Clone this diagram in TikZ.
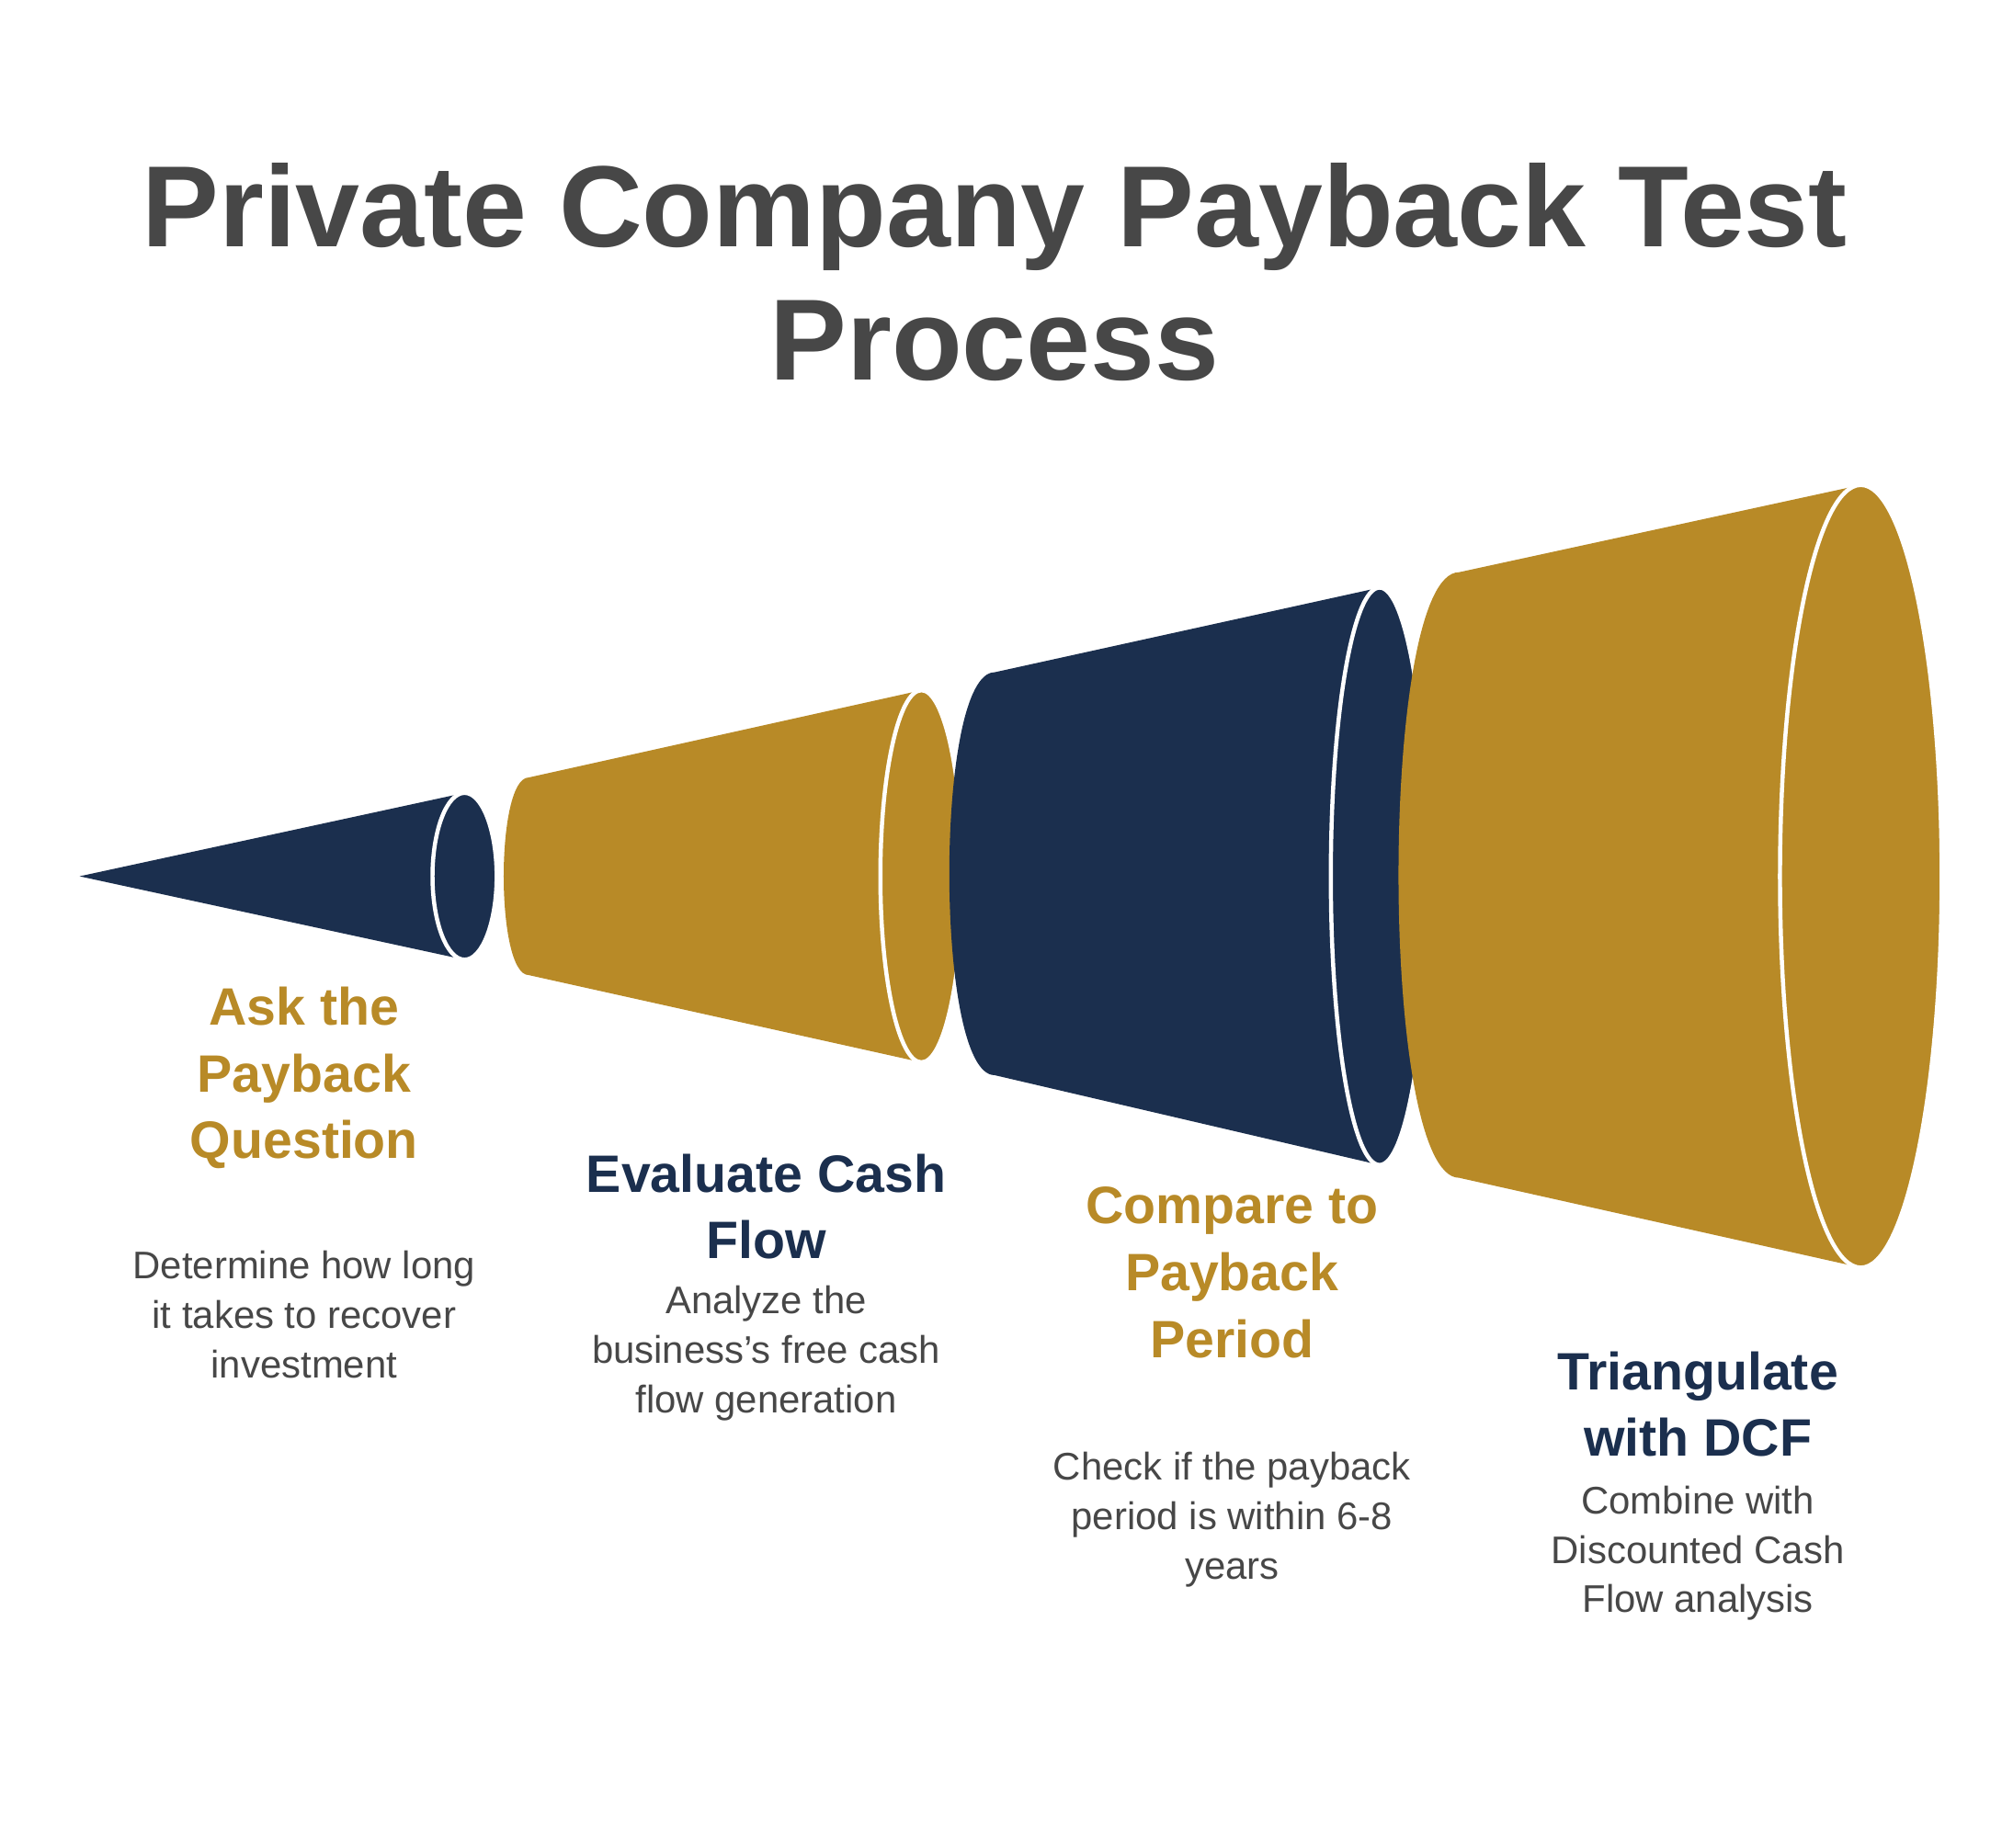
\documentclass[tikz,border=0pt]{standalone}
\usepackage{fontspec}
\setmainfont{Liberation Sans}
\definecolor{navy}{HTML}{1B2F4E}
\definecolor{gold}{HTML}{B88A27}
\definecolor{txt}{HTML}{474747}
\begin{document}
\begin{tikzpicture}[x=0.5pt,y=-0.5pt,
  rimline/.style={line width=1.6pt,draw=white},
  ttl/.style={font=\fontsize{45}{52}\selectfont\bfseries,text=txt,align=center},
  lab/.style={font=\fontsize{20.5}{26}\selectfont\bfseries,align=center,anchor=base},
  desc/.style={font=\fontsize{15}{19.3}\selectfont,text=txt,align=center,anchor=base}]
\useasboundingbox[fill=white] (0,0) rectangle (1560,1440);
% segment 1
\fill[navy] (62,683) -- (362,618) -- (362,748) -- cycle;
\filldraw[navy,rimline] (362,683) ellipse [x radius=25,y radius=65];
% segment 2
\fill[gold] (412,606) -- (718,538) -- (718,828) -- (412,760) .. controls (386,760) and (386,606) .. (412,606) -- cycle;
\filldraw[gold,rimline] (718,683) ellipse [x radius=32,y radius=145];
% segment 3
\fill[navy] (775,524) -- (1075,458) -- (1075,908) -- (775,838) .. controls (728,838) and (728,524) .. (775,524) -- cycle;
\filldraw[navy,rimline] (1075,683) ellipse [x radius=38,y radius=225];
% segment 4
\fill[gold] (1137,446) -- (1450,378) -- (1450,988) -- (1137,918) .. controls (1074,918) and (1074,446) .. (1137,446) -- cycle;
\filldraw[gold,rimline] (1450,683) ellipse [x radius=63,y radius=305];
% title
\node[ttl] (title) at (775,212) {Private Company Payback Test\\Process};
% labels
\node[lab,text=gold] (l1) at (237,903) {Ask the\\Payback\\Question};
\node[desc] (d1) at (237,1074) {Determine how long\\it takes to recover\\investment};
\node[lab,text=navy] (l2) at (597,981) {Evaluate Cash\\Flow};
\node[desc] (d2) at (597,1101) {Analyze the\\business's free cash\\flow generation};
\node[lab,text=gold] (l3) at (960,1058) {Compare to\\Payback\\Period};
\node[desc] (d3) at (960,1231) {Check if the payback\\period is within 6-8\\years};
\node[lab,text=navy] (l4) at (1323,1135) {Triangulate\\with DCF};
\node[desc] (d4) at (1323,1257) {Combine with\\Discounted Cash\\Flow analysis};
\end{tikzpicture}
\end{document}
